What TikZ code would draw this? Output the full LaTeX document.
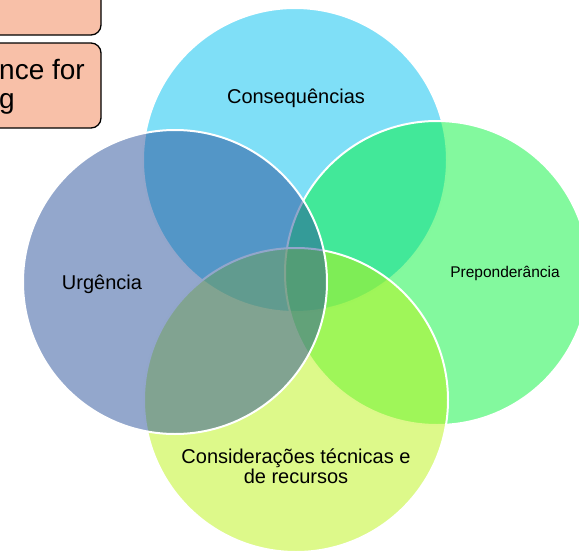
\documentclass[tikz,border=0pt]{standalone}
\usepackage{fontspec}
\setmainfont{Liberation Sans}
\definecolor{consq}{RGB}{0,191,239}
\definecolor{prepond}{RGB}{7,243,61}
\definecolor{consid}{RGB}{187,243,21}
\definecolor{urg}{RGB}{39,79,153}
\definecolor{notefill}{RGB}{248,192,168}
\begin{document}
\begin{tikzpicture}[x=1pt,y=-1pt,
	venn/.style={fill opacity=0.5,draw=white,draw opacity=1,line width=2pt},
	lbl/.style={font=\fontsize{20}{20}\selectfont,align=center,anchor=base},
	note/.style={fill=notefill,draw=black,line width=1.3pt,rounded corners=10pt}]
			\useasboundingbox (0,0) rectangle (579,552);
			\clip (0,0) rectangle (579,552);
			% notes cut by the page edge
			\draw[note] (-60,-40) rectangle (101,35);
			\draw[note] (-60,43) rectangle (101,128);
			\node[anchor=base west,font=\fontsize{28}{29}\selectfont,align=left,inner sep=0pt] (notetext) at (-1,108) {nce for\\g};
			% circles
			\coordinate (ctop) at (295,160);
			\coordinate (cright) at (437,273);
			\coordinate (cbottom) at (296,400);
			\coordinate (cleft) at (175,282);
			\path[venn,fill=consq] (ctop) circle[radius=152pt];
			\path[venn,fill=prepond] (cright) circle[radius=152pt];
			\path[venn,fill=consid] (cbottom) circle[radius=152pt];
			\path[venn,fill=urg] (cleft) circle[radius=152pt];
			% labels
			\node[lbl] (consequencias) at (296,103) {Consequências};
			\node[lbl] (urgencia) at (102,289) {Urgência};
			\node[lbl,font=\fontsize{15.5}{16}\selectfont] (preponderancia) at (505,277) {Preponderância};
			\node[lbl] (consideracoes) at (296,483) {Considerações técnicas e\\de recursos};
	\end{tikzpicture}
\end{document}
